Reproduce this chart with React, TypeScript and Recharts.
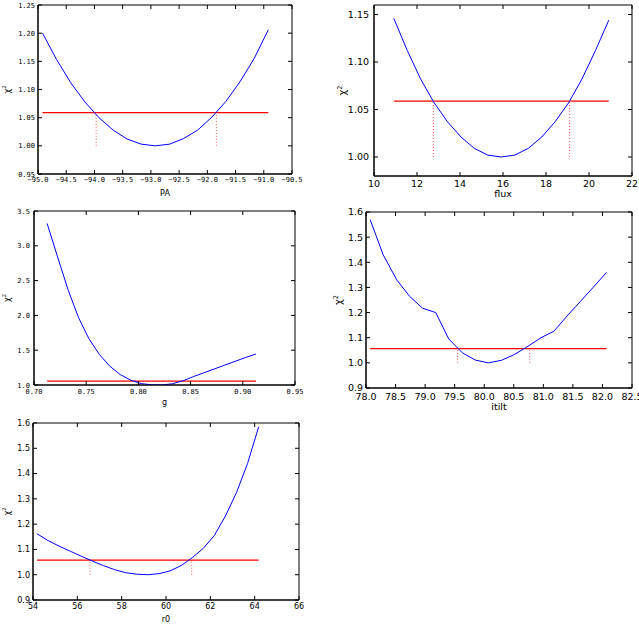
import React from 'react';
import { LineChart, Line, XAxis, YAxis, ReferenceLine, ReferenceArea } from 'recharts';

// ---------- data ----------
const paX = [-94.92, -94.67, -94.42, -94.17, -93.92, -93.67, -93.42, -93.17, -92.92, -92.67, -92.42, -92.17, -91.92, -91.67, -91.42, -91.17, -90.92];
const paChi = [1.2, 1.153, 1.112, 1.078, 1.05, 1.028, 1.012, 1.003, 1.0, 1.003, 1.013, 1.028, 1.051, 1.079, 1.114, 1.155, 1.206];
const paThreshold = 1.059;
const paBounds = [-93.97, -91.84];
const paXTicks = [-95.0, -94.5, -94.0, -93.5, -93.0, -92.5, -92.0, -91.5, -91.0, -90.5];
const paYTicks = [0.95, 1.0, 1.05, 1.1, 1.15, 1.2, 1.25];

const fluxX = [10.92, 11.55, 12.17, 12.8, 13.42, 14.05, 14.67, 15.3, 15.92, 16.55, 17.17, 17.8, 18.42, 19.05, 19.67, 20.3, 20.92];
const fluxChi = [1.146, 1.112, 1.082, 1.057, 1.037, 1.021, 1.009, 1.002, 1.0, 1.002, 1.009, 1.021, 1.037, 1.057, 1.082, 1.112, 1.144];
const fluxThreshold = 1.0588;
const fluxBounds = [12.76, 19.1];
const fluxXTicks = [10, 12, 14, 16, 18, 20, 22];
const fluxYTicks = [1.0, 1.05, 1.1, 1.15];

const gX = [0.7126, 0.7226, 0.7326, 0.7426, 0.7526, 0.7626, 0.7726, 0.7826, 0.7926, 0.8026, 0.8126, 0.8226, 0.8326, 0.8426, 0.8526, 0.8626, 0.8726, 0.8826, 0.8926, 0.9026, 0.9126];
const gChi = [3.32, 2.84, 2.37, 1.97, 1.665, 1.44, 1.27, 1.15, 1.07, 1.02, 1.003, 1.0, 1.018, 1.06, 1.12, 1.175, 1.23, 1.285, 1.34, 1.395, 1.445];
const gThreshold = 1.057;
const gXTicks = [0.7, 0.75, 0.8, 0.85, 0.9, 0.95];
const gYTicks = [1.0, 1.5, 2.0, 2.5, 3.0, 3.5];

const itiltX = [78.07, 78.29, 78.52, 78.74, 78.96, 79.18, 79.4, 79.63, 79.85, 80.07, 80.29, 80.51, 80.74, 80.96, 81.18, 81.4, 81.63, 81.85, 82.07];
const itiltChi = [1.57, 1.43, 1.33, 1.264, 1.217, 1.2, 1.095, 1.04, 1.011, 1.0, 1.01, 1.033, 1.066, 1.1, 1.126, 1.186, 1.245, 1.302, 1.36];
const itiltThreshold = 1.057;
const itiltBounds = [79.55, 80.77];
const itiltXTicks = [78.0, 78.5, 79.0, 79.5, 80.0, 80.5, 81.0, 81.5, 82.0, 82.5];
const itiltYTicks = [0.9, 1.0, 1.1, 1.2, 1.3, 1.4, 1.5, 1.6];

const r0X = [54.18, 54.68, 55.18, 55.68, 56.18, 56.68, 57.18, 57.68, 58.18, 58.68, 59.18, 59.68, 60.18, 60.68, 61.18, 61.68, 62.18, 62.68, 63.18, 63.68, 64.18];
const r0Chi = [1.162, 1.135, 1.113, 1.093, 1.073, 1.054, 1.036, 1.02, 1.008, 1.002, 1.0, 1.004, 1.015, 1.036, 1.067, 1.104, 1.155, 1.232, 1.325, 1.44, 1.585];
const r0Threshold = 1.058;
const r0Bounds = [56.57, 61.16];
const r0XTicks = [54, 56, 58, 60, 62, 64, 66];
const r0YTicks = [0.9, 1.0, 1.1, 1.2, 1.3, 1.4, 1.5, 1.6];

// ---------- helpers ----------
const minus = (s: string) => s.replace('-', '\u2212');
const f0 = (v: number) => minus(v.toFixed(0));
const f1 = (v: number) => minus(v.toFixed(1));
const f2 = (v: number) => minus(v.toFixed(2));

const MONO = "'DejaVu Sans Mono', monospace";
const SANS = "'DejaVu Sans', sans-serif";

type PanelProps = {
  xs: number[];
  ys: number[];
  threshold: number;
  bounds?: number[];
  xDomain: [number, number];
  yDomain: [number, number];
  xTicks: number[];
  yTicks: number[];
  xFmt: (v: number) => string;
  yFmt: (v: number) => string;
  chartLeft: number;
  chartTop: number;
  boxLeft: number;
  boxW: number;
  boxH: number;
  bottomH: number;
  rightM: number;
  xFont: number;
  yFont: number;
  tickFamily: string;
  xTickDy: number;
  yTickGap: number;
  xLabel: string;
  xLabelFont: number;
  xLabelDy: number;
  yLabelX: number;
  yLabelFont: number;
};

const TOPM = 5;

function Panel(p: PanelProps) {
  const data = p.xs.map((x, i) => ({ x, y: p.ys[i] }));
  const yAxisW = p.boxLeft - p.chartLeft;
  const width = yAxisW + p.boxW + p.rightM;
  const height = TOPM + p.boxH + p.bottomH;
  const x0 = p.xs[0];
  const x1 = p.xs[p.xs.length - 1];

  const XTick = (props: any) => {
    const { x, y, payload } = props;
    return (
      <g>
        <line x1={x} y1={y} x2={x} y2={y - 4} stroke="#000" strokeWidth={1} />
        <line x1={x} y1={y - p.boxH} x2={x} y2={y - p.boxH + 4} stroke="#000" strokeWidth={1} />
        <text x={x} y={y + p.xTickDy} textAnchor="middle" fontSize={p.xFont} fontFamily={p.tickFamily} fill="#000">
          {p.xFmt(payload.value)}
        </text>
      </g>
    );
  };
  const YTick = (props: any) => {
    const { x, y, payload } = props;
    return (
      <g>
        <line x1={x} y1={y} x2={x + 4} y2={y} stroke="#000" strokeWidth={1} />
        <line x1={x + p.boxW} y1={y} x2={x + p.boxW - 4} y2={y} stroke="#000" strokeWidth={1} />
        <text x={x - p.yTickGap} y={y + p.yFont * 0.36} textAnchor="end" fontSize={p.yFont} fontFamily={p.tickFamily} fill="#000">
          {p.yFmt(payload.value)}
        </text>
      </g>
    );
  };
  const XLabel = (props: any) => {
    const vb = props.viewBox || { x: yAxisW, y: TOPM + p.boxH, width: p.boxW };
    return (
      <text x={vb.x + vb.width / 2} y={vb.y + p.xLabelDy} textAnchor="middle" fontSize={p.xLabelFont} fontFamily={SANS} fill="#000">
        {p.xLabel}
      </text>
    );
  };
  const YLabel = () => {
    const cx = p.yLabelX - p.chartLeft;
    const cy = TOPM + p.boxH / 2;
    return (
      <text transform={`rotate(-90, ${cx}, ${cy})`} x={cx} y={cy} textAnchor="middle" fontSize={p.yLabelFont} fontFamily={SANS} fill="#000">
        χ<tspan fontSize={p.yLabelFont * 0.65} dy={-p.yLabelFont * 0.45}>2</tspan>
      </text>
    );
  };

  return (
    <div style={{ position: 'absolute', left: p.chartLeft, top: p.chartTop - TOPM }}>
      <LineChart width={width} height={height} data={data} margin={{ top: TOPM, right: p.rightM, left: 0, bottom: 0 }}>
        <XAxis
          dataKey="x"
          type="number"
          domain={p.xDomain}
          ticks={p.xTicks}
          allowDataOverflow
          interval={0}
          height={p.bottomH}
          tickSize={0}
          tickMargin={0}
          tick={XTick}
          axisLine={{ stroke: '#000', strokeWidth: 1 }}
          label={<XLabel />}
        />
        <YAxis
          type="number"
          domain={p.yDomain}
          ticks={p.yTicks}
          allowDataOverflow
          interval={0}
          width={yAxisW}
          tickSize={0}
          tickMargin={0}
          tick={YTick}
          axisLine={{ stroke: '#000', strokeWidth: 1 }}
          label={<YLabel />}
        />
        <ReferenceArea
          x1={p.xDomain[0]}
          x2={p.xDomain[1]}
          y1={p.yDomain[0]}
          y2={p.yDomain[1]}
          fill="none"
          fillOpacity={0}
          stroke="#000"
          strokeWidth={1}
          ifOverflow="visible"
        />
        <ReferenceLine
          segment={[{ x: x0, y: p.threshold }, { x: x1, y: p.threshold }]}
          stroke="#ff0000"
          strokeWidth={1.2}
          ifOverflow="visible"
        />
        {(p.bounds || []).map((b, i) => (
          <ReferenceLine
            key={i}
            segment={[{ x: b, y: 1.0 }, { x: b, y: p.threshold }]}
            stroke="#ff5555"
            strokeWidth={1}
            strokeDasharray="1 2"
            ifOverflow="visible"
          />
        ))}
        <Line dataKey="y" type="linear" stroke="#0000ff" strokeWidth={1} dot={false} isAnimationActive={false} />
      </LineChart>
    </div>
  );
}

export default function App() {
  return (
    <div style={{ position: 'absolute', left: 0, top: 0, width: 639, height: 626, background: '#fff', overflow: 'hidden' }}>
      <Panel
        xs={paX} ys={paChi} threshold={paThreshold} bounds={paBounds}
        xDomain={[-95, -90.5]} yDomain={[0.95, 1.25]} xTicks={paXTicks} yTicks={paYTicks}
        xFmt={f1} yFmt={f2}
        chartLeft={0} chartTop={5} boxLeft={38} boxW={254} boxH={169} bottomH={26} rightM={16}
        xFont={7} yFont={7} tickFamily={MONO} xTickDy={7.5} yTickGap={3}
        xLabel="PA" xLabelFont={8} xLabelDy={22} yLabelX={10} yLabelFont={8}
      />
      <Panel
        xs={fluxX} ys={fluxChi} threshold={fluxThreshold} bounds={fluxBounds}
        xDomain={[10, 22]} yDomain={[0.98, 1.16]} xTicks={fluxXTicks} yTicks={fluxYTicks}
        xFmt={f0} yFmt={f2}
        chartLeft={330} chartTop={5} boxLeft={374} boxW={258} boxH={171} bottomH={24} rightM={7}
        xFont={9.5} yFont={9.5} tickFamily={SANS} xTickDy={11} yTickGap={5}
        xLabel="flux" xLabelFont={9.5} xLabelDy={21} yLabelX={346} yLabelFont={10}
      />
      <Panel
        xs={gX} ys={gChi} threshold={gThreshold}
        xDomain={[0.7, 0.95]} yDomain={[1.0, 3.5]} xTicks={gXTicks} yTicks={gYTicks}
        xFmt={f2} yFmt={f1}
        chartLeft={0} chartTop={211} boxLeft={34} boxW={261} boxH={174} bottomH={26} rightM={16}
        xFont={7} yFont={7} tickFamily={MONO} xTickDy={8.5} yTickGap={4}
        xLabel="g" xLabelFont={8} xLabelDy={20} yLabelX={10} yLabelFont={8}
      />
      <Panel
        xs={itiltX} ys={itiltChi} threshold={itiltThreshold} bounds={itiltBounds}
        xDomain={[78, 82.5]} yDomain={[0.9, 1.6]} xTicks={itiltXTicks} yTicks={itiltYTicks}
        xFmt={f1} yFmt={f1}
        chartLeft={330} chartTop={212} boxLeft={366} boxW={266} boxH={176} bottomH={26} rightM={7}
        xFont={9.5} yFont={9.5} tickFamily={SANS} xTickDy={12} yTickGap={3}
        xLabel="itilt" xLabelFont={9.5} xLabelDy={22} yLabelX={342} yLabelFont={10}
      />
      <Panel
        xs={r0X} ys={r0Chi} threshold={r0Threshold} bounds={r0Bounds}
        xDomain={[54, 66]} yDomain={[0.9, 1.6]} xTicks={r0XTicks} yTicks={r0YTicks}
        xFmt={f0} yFmt={f1}
        chartLeft={0} chartTop={423} boxLeft={33} boxW={266} boxH={177} bottomH={26} rightM={10}
        xFont={8} yFont={8} tickFamily={SANS} xTickDy={9} yTickGap={3}
        xLabel="r0" xLabelFont={8} xLabelDy={22} yLabelX={10} yLabelFont={8}
      />
    </div>
  );
}
